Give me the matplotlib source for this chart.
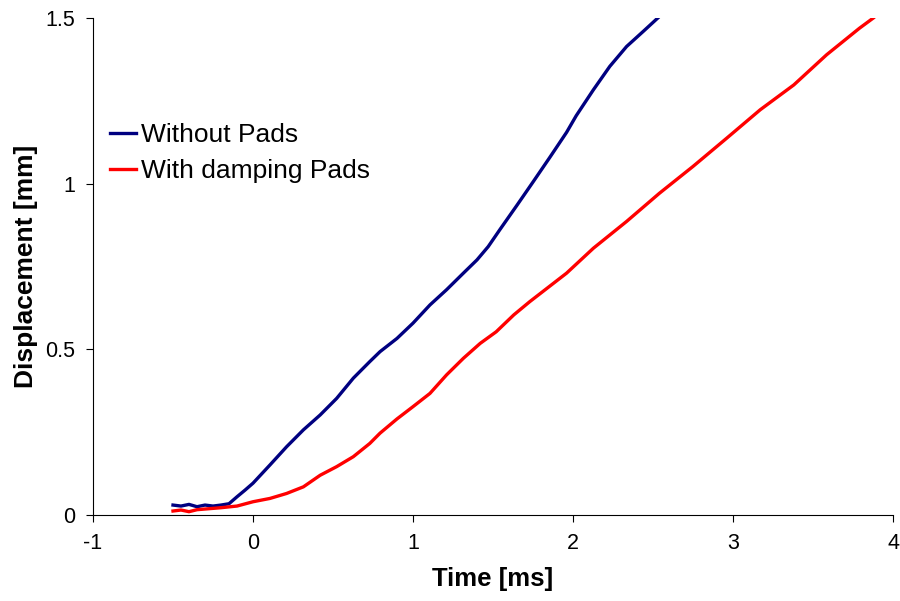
import matplotlib
matplotlib.use('Agg')
import matplotlib.pyplot as plt
import numpy as np

plt.rcParams['font.family'] = ['Liberation Sans', 'DejaVu Sans']

# Without Pads
t_without = [-0.5, -0.45, -0.4, -0.35, -0.3, -0.25, -0.2, -0.15, -0.1, -0.05, 0.0,
             0.106, 0.21, 0.315, 0.42, 0.523, 0.627, 0.73, 0.794, 0.9, 1.0,
             1.106, 1.21, 1.315, 1.4, 1.47, 1.544, 1.65, 1.75, 1.856, 1.96, 2.02,
             2.127, 2.23, 2.335, 2.44, 2.53]
d_without = [0.03, 0.027, 0.032, 0.025, 0.03, 0.027, 0.03, 0.034, 0.055, 0.075, 0.096,
             0.151, 0.206, 0.257, 0.302, 0.352, 0.413, 0.463, 0.493, 0.533, 0.579,
             0.634, 0.68, 0.73, 0.77, 0.81, 0.862, 0.935, 1.005, 1.08, 1.155, 1.205,
             1.283, 1.354, 1.414, 1.46, 1.5]

# With damping Pads
t_with = [-0.5, -0.45, -0.4, -0.35, -0.3, -0.2, -0.1, 0.0, 0.106, 0.21, 0.315,
          0.42, 0.523, 0.627, 0.73, 0.794, 0.9, 1.0, 1.106, 1.21, 1.315,
          1.42, 1.52, 1.63, 1.73, 1.96, 2.127, 2.335, 2.54, 2.75, 2.96,
          3.17, 3.38, 3.585, 3.79, 3.877]
d_with = [0.012, 0.015, 0.01, 0.016, 0.018, 0.022, 0.027, 0.04, 0.05, 0.065, 0.085,
          0.12, 0.146, 0.176, 0.216, 0.247, 0.29, 0.327, 0.367, 0.423, 0.473,
          0.518, 0.553, 0.604, 0.644, 0.73, 0.805, 0.886, 0.971, 1.052, 1.137,
          1.223, 1.298, 1.389, 1.469, 1.5]

fig = plt.figure(figsize=(9, 6.01), dpi=100)
ax = fig.add_axes([93/900, 1-515/601, 800/900, 497/601])

ax.plot(t_without, d_without, color='#000080', lw=2.4, label='Without Pads')
ax.plot(t_with, d_with, color='#ff0000', lw=2.4, label='With damping Pads')

ax.set_xlim(-1, 4)
ax.set_ylim(0, 1.5)
ax.set_xticks([-1, 0, 1, 2, 3, 4])
ax.set_xticklabels(['-1', '0', '1', '2', '3', '4'])
ax.set_yticks([0, 0.5, 1, 1.5])
ax.set_yticklabels(['0', '0.5', '1', '1.5'])
ax.tick_params(direction='out', length=5, width=0.8, labelsize=15.5, pad=8)
for s in ['top', 'right']:
    ax.spines[s].set_visible(False)
for s in ['left', 'bottom']:
    ax.spines[s].set_linewidth(0.8)

ax.set_xlabel('Time [ms]', fontsize=18.5, fontweight='bold', labelpad=9)
ax.set_ylabel('Displacement [mm]', fontsize=19, fontweight='bold', labelpad=5)

ax.legend(loc='center left', bbox_to_anchor=(0.021, 0.728), frameon=False,
          fontsize=19, handlelength=1.0, handletextpad=0.2, labelspacing=0.44,
          borderpad=0, borderaxespad=0)

fig.savefig('out.png', dpi=100)
